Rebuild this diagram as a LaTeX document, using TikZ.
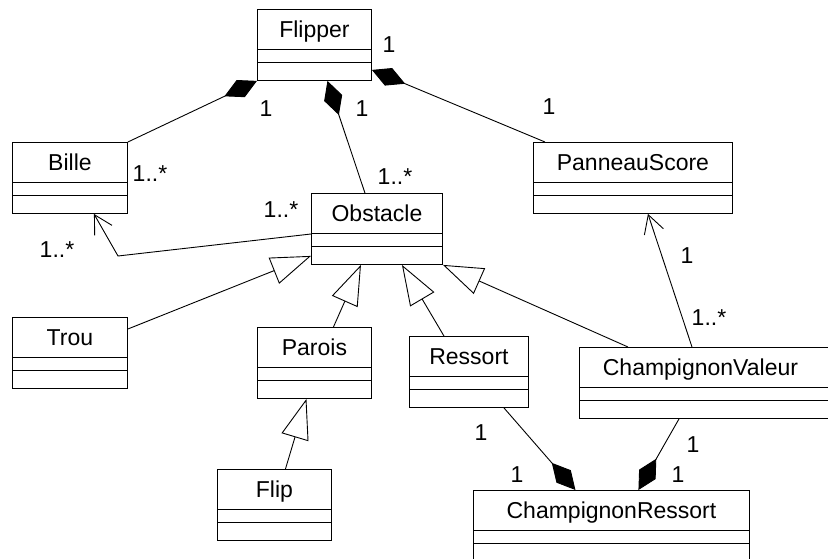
\documentclass[tikz,border=0pt]{standalone}
\usepackage{fontspec}
\setmainfont{Liberation Sans}
\usetikzlibrary{arrows.meta,calc}
\tikzset{
  classbox/.style={draw, line width=0.9pt, minimum height=71pt, inner sep=0pt, anchor=north west},
  classln/.style={line width=0.9pt},
  classname/.style={font=\fontsize{23}{27}\selectfont, anchor=base, inner sep=0pt},
  multlbl/.style={font=\fontsize{23}{27}\selectfont, anchor=base, inner sep=0pt},
  compln/.style={{Diamond[length=36pt, width=19pt]}-, line width=0.9pt},
  genln/.style={-{Triangle[open, length=40pt, width=28pt]}, line width=0.9pt},
  assocln/.style={-{Straight Barb[length=18pt, width=20pt]}, line width=0.9pt},
}
\newcommand{\umlclass}[5][0]{%
  \node[classbox, minimum width=#4] (#2) at #3 {};
  \node[classname] (#2-name) at ($(#2.north)+(#1,28.5)$) {#5};
  \draw[classln] ($(#2.north west)+(0,40.5)$) -- ($(#2.north east)+(0,40.5)$);
  \draw[classln] ($(#2.north west)+(0,53.5)$) -- ($(#2.north east)+(0,53.5)$);
}

\begin{document}
\begin{tikzpicture}[x=1pt, y=-1pt]
    \useasboundingbox (0,0) rectangle (828,559);
    \fill[white] (0,0) rectangle (828,559);
    \clip (0,0) rectangle (828,559);
    % classes
    \umlclass{flipper}{(257,9)}{114pt}{Flipper}
    \umlclass{bille}{(12,142)}{115pt}{Bille}
    \umlclass{obstacle}{(311,193)}{131pt}{Obstacle}
    \umlclass{panneau}{(533,142)}{199pt}{PanneauScore}
    \umlclass{trou}{(12,317)}{115pt}{Trou}
    \umlclass{parois}{(257,327)}{114pt}{Parois}
    \umlclass{ressort}{(409,336)}{119pt}{Ressort}
    \umlclass[-9]{champval}{(579,347)}{260pt}{ChampignonValeur}
    \umlclass{flip}{(217,469)}{114pt}{Flip}
    \umlclass{champres}{(473,490)}{276pt}{ChampignonRessort}
    % compositions
    \draw[compln] (flipper.south west) -- (bille.north east);
    \draw[compln] ($(flipper.south)+(13,0)$) -- ($(obstacle.north)+(-12,0)$);
    \draw[compln] ($(flipper.south east)+(0,-11)$) -- ($(panneau.north west)+(12,0)$);
    \draw[compln] ($(champres.north)+(-36,0)$) -- ($(ressort.south)+(35,0)$);
    \draw[compln] ($(champres.north)+(27,0)$) -- ($(champval.south west)+(100,0)$);
    % associations
    \coordinate (bend) at (118,256);
    \draw[assocln] ($(obstacle.north west)+(0,41)$) -- (bend) -- ($(bille.south)+(24,0)$);
    \draw[assocln] ($(champval.north west)+(113,0)$) -- ($(panneau.south)+(15,0)$);
    % generalisations
    \draw[genln] ($(trou.north east)+(0,12)$) -- ($(obstacle.south west)+(0,-9)$);
    \draw[genln] ($(parois.north)+(19,0)$) -- ($(obstacle.south)+(-16,0)$);
    \draw[genln] ($(ressort.north)+(-25,0)$) -- ($(obstacle.south)+(25,0)$);
    \draw[genln] ($(champval.north west)+(49,0)$) -- (obstacle.south east);
    \draw[genln] ($(flip.north)+(11,0)$) -- ($(parois.south)+(-8,0)$);
    % multiplicities
    \node[multlbl] (mFlipScore) at (389,53) {1};
    \node[multlbl] (mFlipBille) at (266,117) {1};
    \node[multlbl] (mFlipObst) at (362,117) {1};
    \node[multlbl] (mScoreFlip) at (549,115) {1};
    \node[multlbl] (mBilleFlip) at (150,182) {1..*};
    \node[multlbl] (mObstFlip) at (395,185) {1..*};
    \node[multlbl] (mObstBille) at (281,218) {1..*};
    \node[multlbl] (mBilleObst) at (57,258) {1..*};
    \node[multlbl] (mScoreVal) at (687,263) {1};
    \node[multlbl] (mValScore) at (709,325) {1..*};
    \node[multlbl] (mRessRes) at (481,440) {1};
    \node[multlbl] (mResRess) at (517,482) {1};
    \node[multlbl] (mValRes) at (693,452) {1};
    \node[multlbl] (mResVal) at (678,482) {1};
\end{tikzpicture}
\end{document}
